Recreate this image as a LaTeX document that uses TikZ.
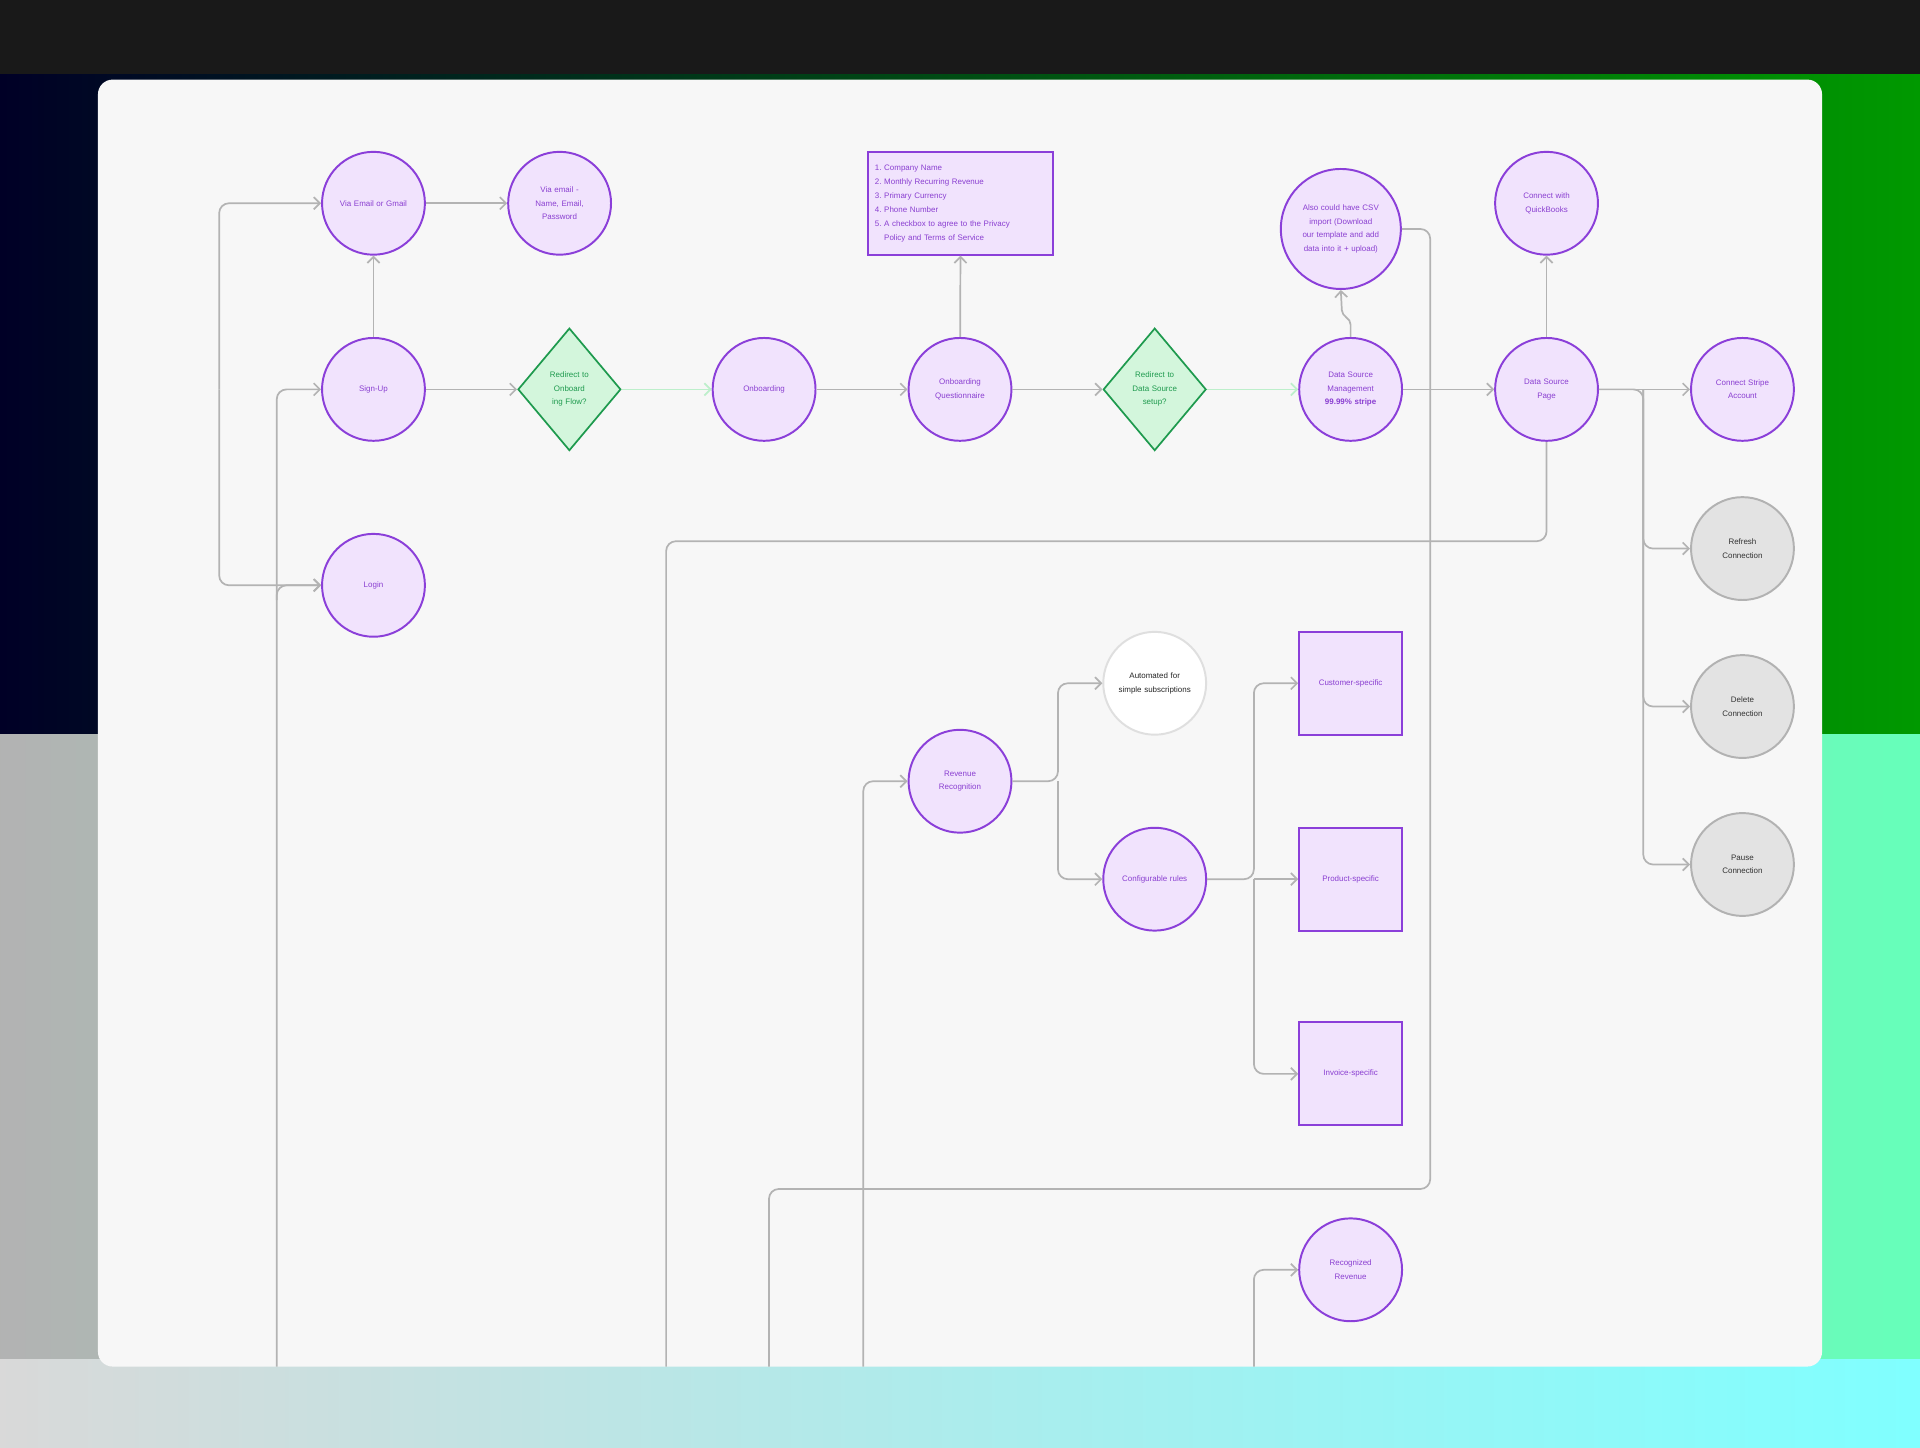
\documentclass[tikz,border=0pt]{standalone}
\usepackage{fontspec}
\setmainfont{Liberation Sans}
\usetikzlibrary{shapes.geometric,arrows.meta}
\definecolor{pur}{HTML}{8B3FD9}
\definecolor{pfill}{HTML}{F1E3FD}
\definecolor{ptext}{HTML}{8A3FD1}
\definecolor{gline}{HTML}{B3B3B3}
\definecolor{gr}{HTML}{1E9A4E}
\definecolor{gfill}{HTML}{D3F6DC}
\definecolor{gtext}{HTML}{1E9A4E}
\definecolor{lgreen}{HTML}{BDEFCB}
\tikzset{
 circ/.style={circle,draw=pur,line width=1.6pt,fill=pfill,minimum size=84pt,inner sep=0pt,align=center,text=ptext,font=\fontsize{6.5}{11}\selectfont,text width=60pt},
 sq/.style={rectangle,draw=pur,line width=1.6pt,fill=pfill,minimum size=84pt,inner sep=0pt,align=center,text=ptext,font=\fontsize{6.5}{11}\selectfont},
 dia/.style={diamond,draw=gr,line width=1.4pt,fill=gfill,minimum width=84pt,minimum height=100pt,inner sep=0pt,align=center,text=gtext,font=\fontsize{6.5}{11}\selectfont,text width=40pt},
 grey/.style={circ,draw=gray!60,fill=gray!22,text=black!80},
 white/.style={circ,draw=gray!25,fill=white,text=black!85},
 conn/.style={draw=gline,line width=1.4pt,rounded corners=8pt,-{Straight Barb[length=5pt,width=10pt]}},
 plain/.style={draw=gline,line width=1.4pt,rounded corners=8pt},
 gconn/.style={conn,draw=lgreen},
}
\begin{document}
\begin{tikzpicture}[x=1pt,y=-1pt]
\useasboundingbox (0,0) rectangle (1568,1182);
\shade[left color=black!85!blue,right color=green!60!black] (0,0) rectangle (1568,600);
\shade[top color=black!90,bottom color=black!90] (0,0) rectangle (1568,60);
\shade[left color=gray!60,right color=green!45!cyan!60] (0,600) rectangle (1568,1182);
\shade[left color=gray!30,right color=cyan!50] (0,1110) rectangle (1568,1182);
\fill[fill=black!3,rounded corners=12pt] (80,65) rectangle (1488,1116);
\begin{scope}
\clip[rounded corners=12pt] (80,65) rectangle (1488,1116);
\node[circ] (viaemail) at (305,166) {Via Email or Gmail};
\node[circ] (vianame) at (457,166) {Via email -\\Name, Email, Password};
\node[circ] (signup) at (305,318) {Sign-Up};
\node[dia] (red1) at (465,318) {Redirect to Onboard ing Flow?};
\node[circ] (onb) at (624,318) {Onboarding};
\node[circ] (quest) at (784,318) {Onboarding Questionnaire};
\node[dia] (red2) at (943,318) {Redirect to Data Source setup?};
\node[circ] (dsm) at (1103,318) {Data Source Management\\\textbf{99.99\% stripe}};
\node[circ] (dsp) at (1263,318) {Data Source\\Page};
\node[circ] (stripe) at (1423,318) {Connect Stripe Account};
\node[sq,minimum width=151pt,text width=140pt,align=left,font=\fontsize{6.5}{11.4}\selectfont] (list) at (784.5,166) {1.\ Company Name\\2.\ Monthly Recurring Revenue\\3.\ Primary Currency\\4.\ Phone Number\\5.\ A checkbox to agree to the Privacy\\\phantom{5.\ }Policy and Terms of Service};
\node[circ,minimum size=98pt,text width=66pt] (csv) at (1095,187) {Also could have CSV import (Download our template and add data into it + upload)};
\node[circ] (qb) at (1263,166) {Connect with QuickBooks};
\node[circ] (login) at (305,478) {Login};
\node[grey] (refresh) at (1423,448) {Refresh\\Connection};
\node[grey] (delete) at (1423,577) {Delete\\Connection};
\node[grey] (pause) at (1423,706) {Pause\\Connection};
\node[white] (auto) at (943,558) {Automated for simple subscriptions};
\node[circ] (revrec) at (784,638) {Revenue\\Recognition};
\node[circ] (config) at (943,718) {Configurable rules};
\node[sq] (cust) at (1103,558) {Customer-specific};
\node[sq] (prod) at (1103,718) {Product-specific};
\node[sq] (inv) at (1103,877) {Invoice-specific};
\node[circ] (recrev) at (1103,1037) {Recognized\\Revenue};
\coordinate (lp) at (179,318);
\draw[conn] (lp) |- (viaemail.west);
\draw[conn] (lp) |- (login.west);
\coordinate (b1) at (226,1120);
\draw[conn] (b1) |- (signup.west);
\draw[conn] (226,490) |- (login.west);
\draw[conn] (signup) -- (viaemail);
\draw[conn] (viaemail) -- (vianame);
\draw[conn] (signup) -- (red1);
\draw[gconn] (red1) -- (onb);
\draw[conn] (onb) -- (quest);
\draw[conn] (quest) -- (list);
\draw[conn] (quest) -- (red2);
\draw[gconn] (red2) -- (dsm);
\draw[conn,rounded corners=4pt] (dsm.north) -- ++(0,-14) -- ++(-7,-4) -- (csv.south);
\draw[conn] (dsm) -- (dsp);
\draw[conn] (dsp) -- (qb);
\draw[conn] (dsp) -- (stripe);
\coordinate (br) at (1342,318);
\draw[conn] (dsp.east) -- (br) |- (refresh.west);
\draw[conn] (br) |- (delete.west);
\draw[conn] (br) |- (pause.west);
\draw[plain] (csv.east) -- (1168,187) -- (1168,971) -- (628,971) -- (628,1120);
\draw[plain] (dsp.south) -- (1263,442) -- (544,442) -- (544,1120);
\draw[conn] (705,1120) |- (revrec.west);
\coordinate (br2) at (864,638);
\draw[conn] (revrec.east) -- (br2) |- (auto.west);
\draw[conn] (br2) |- (config.west);
\coordinate (br3) at (1024,718);
\draw[conn] (config.east) -- (br3) |- (cust.west);
\draw[conn] (br3) -- (prod.west);
\draw[conn] (br3) |- (inv.west);
\draw[conn] (1024,1120) |- (recrev.west);
\end{scope}
\end{tikzpicture}
\end{document}
